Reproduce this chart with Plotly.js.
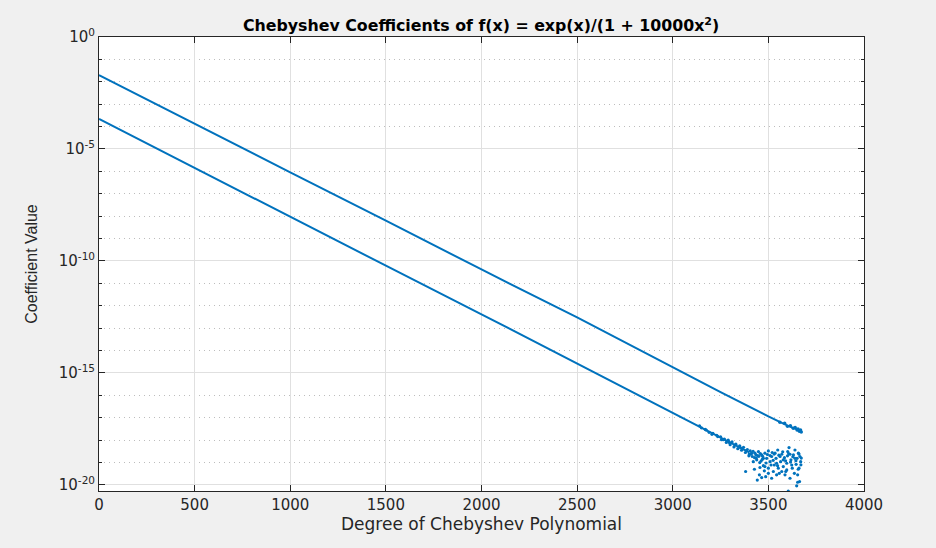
<!DOCTYPE html>
<html>
<head>
<meta charset="utf-8">
<script src="https://cdn.plot.ly/plotly-3.0.1.min.js"></script>
<style>html,body{margin:0;padding:0;background:#f0f0f0;}#chart{width:936px;height:548px;}</style>
</head>
<body>
<div id="chart"></div>
<script>
// Upper envelope
var upperDegrees = [0, 500, 1000, 1500, 2000, 2500, 3000, 3250, 3500, 3600, 3675];
var upperValues  = [1.995e-2, 1.318e-4, 9.12e-7, 6.31e-9, 4.17e-11, 3.02e-13, 1.78e-15, 1.41e-16, 1.15e-17, 4.47e-18, 2.45e-18];
// Lower envelope
var lowerDegrees = [0, 500, 1000, 1500, 2000, 2500, 3000, 3200, 3400];
var lowerValues  = [2.19e-4, 1.41e-6, 9.55e-9, 6.17e-11, 4.17e-13, 2.63e-15, 1.66e-17, 2.09e-18, 2.82e-19];
// Scatter near the end of the upper envelope: degree and log10(value)
var upperTailDegrees = [3560, 3585, 3600, 3615, 3630, 3640, 3650, 3655, 3662, 3668, 3672];
var upperTailLog10   = [-17.20, -17.25, -17.38, -17.36, -17.47, -17.44, -17.55, -17.50, -17.60, -17.55, -17.64];
// Noisy tail of the lower envelope: degree and log10(value)
var tailDegrees = [3150,3170,3190,3210,3230,3250,3255,3270,3280,3290,3300,3310,3320,3330,3340,3350,3360,3370,3380,3390,3400,3405,3420,
  3381,3427,3442,3453,3465,3486,3479,3474,3462,3439,3416,3430,3448,3465,3482,3491,3500,3509,3517,3526,3531,3540,3549,3552,3557,3564,3570,3578,3584,3591,3596,3601,3608,3613,3618,3625,3631,3636,3639,3645,3650,3653,3657,3660,3665,3669,3653,3648,3604,3482,3500,3514,3543,3561,3578,3596,3622,3587,3543,3517,3500,3456,3570,3639,3613,3535,3509,3474,3444,3409,3421,3663,3670,3600,3590,3525,3470,3455,3437,
  3140,3175,3205,3235,3265,3295,3325,3355,3385,3412,3435,3450,3458,3495,3520,3555,3575,3606,3628,3644,3660,3672,3530,3488,3548,3616,3656,3398,3428,3468];
var tailLog10 = [-17.45,-17.52,-17.65,-17.70,-17.78,-17.85,-17.98,-17.95,-18.10,-18.00,-18.20,-18.08,-18.30,-18.18,-18.38,-18.25,-18.45,-18.32,-18.55,-18.42,-18.62,-18.48,-18.50,
  -19.40,-19.30,-19.78,-19.55,-19.67,-19.63,-19.37,-19.14,-18.93,-18.88,-18.73,-18.58,-18.51,-18.66,-18.58,-18.81,-18.48,-18.96,-18.73,-19.40,-19.11,-18.81,-18.44,-19.25,-19.48,-18.96,-18.63,-19.18,-18.78,-19.40,-19.03,-18.51,-18.33,-19.70,-18.88,-19.25,-18.66,-19.48,-18.44,-19.08,-18.81,-19.55,-18.58,-19.25,-18.73,-18.96,-19.88,-20.04,-20.27,-19.18,-19.25,-19.11,-19.03,-18.73,-18.88,-19.33,-19.11,-19.55,-19.55,-19.70,-19.48,-19.22,-19.40,-18.81,-18.63,-18.58,-18.69,-18.81,-18.69,-18.63,-18.96,-19.85,-19.10,-18.70,-18.92,-18.90,-18.72,-19.00,-18.80,
  -17.36,-17.55,-17.74,-17.84,-17.98,-18.10,-18.22,-18.34,-18.47,-18.58,-18.66,-18.72,-18.60,-18.64,-18.55,-18.67,-18.52,-18.60,-18.74,-18.92,-18.62,-18.80,-18.62,-19.02,-19.14,-18.98,-19.30,-18.70,-18.78,-18.86];
function fromLog(arr){ return arr.map(function(e){ return Math.pow(10, e); }); }

var xTickVals = [0, 500, 1000, 1500, 2000, 2500, 3000, 3500, 4000];
var yTickVals = [1, 1e-5, 1e-10, 1e-15, 1e-20];
var yTickText = ['10<sup>0</sup>', '10<sup>-5</sup>', '10<sup>-10</sup>', '10<sup>-15</sup>', '10<sup>-20</sup>'];
var yMinorVals = [1e-1,1e-2,1e-3,1e-4,1e-6,1e-7,1e-8,1e-9,1e-11,1e-12,1e-13,1e-14,1e-16,1e-17,1e-18,1e-19];

var blue = '#0072BD';
var traces = [
  {x: upperDegrees, y: upperValues, mode: 'lines', line: {color: blue, width: 2}},
  {x: lowerDegrees, y: lowerValues, mode: 'lines', line: {color: blue, width: 2}},
  {x: upperTailDegrees, y: fromLog(upperTailLog10), mode: 'markers', marker: {color: blue, size: 3.5}},
  {x: tailDegrees, y: fromLog(tailLog10), mode: 'markers', marker: {color: blue, size: 3.2}}
];

var font = 'DejaVu Sans, Liberation Sans, Arial, sans-serif';
var layout = {
  width: 936, height: 548,
  paper_bgcolor: '#f0f0f0', plot_bgcolor: '#ffffff',
  margin: {l: 99, r: 72, t: 37, b: 57},
  showlegend: false,
  font: {family: font, color: '#262626', size: 15},
  title: {text: '<b>Chebyshev Coefficients of f(x) = exp(x)/(1 + 10000x<sup>2</sup>)</b>', font: {family: font, size: 15.8, color: '#000000'}, x: 0.514, xanchor: 'center', y: 0.953, yanchor: 'middle'},
  xaxis: {
    range: [0, 4000], tickmode: 'array', tickvals: xTickVals,
    ticks: 'inside', ticklen: 6, tickcolor: '#262626', tickwidth: 1,
    showline: true, linecolor: '#262626', linewidth: 1, mirror: 'ticks',
    showgrid: true, gridcolor: '#e0e0e0', gridwidth: 1, zeroline: false,
    tickfont: {size: 15, color: '#262626'},
    title: {text: 'Degree of Chebyshev Polynomial', font: {size: 17, color: '#262626'}, standoff: 5}
  },
  yaxis: {
    type: 'log', range: [-20.27, 0], tickmode: 'array', tickvals: yTickVals, ticktext: yTickText,
    ticks: 'inside', ticklen: 6, tickcolor: '#262626', tickwidth: 1,
    showline: true, linecolor: '#262626', linewidth: 1, mirror: 'ticks',
    showgrid: true, gridcolor: '#e0e0e0', gridwidth: 1, zeroline: false,
    tickfont: {size: 15, color: '#262626'},
    minor: {tickmode: 'array', tickvals: yMinorVals, ticks: 'inside', ticklen: 3, tickcolor: '#262626',
            showgrid: true, gridcolor: '#bdbdbd', griddash: '1px,4px', gridwidth: 1},
    title: {text: 'Coefficient Value', font: {family: 'Liberation Sans, Arial, sans-serif', size: 16, color: '#262626'}, standoff: 17}
  }
};
Plotly.newPlot('chart', traces, layout, {displayModeBar: false, staticPlot: true});
</script>
</body>
</html>
